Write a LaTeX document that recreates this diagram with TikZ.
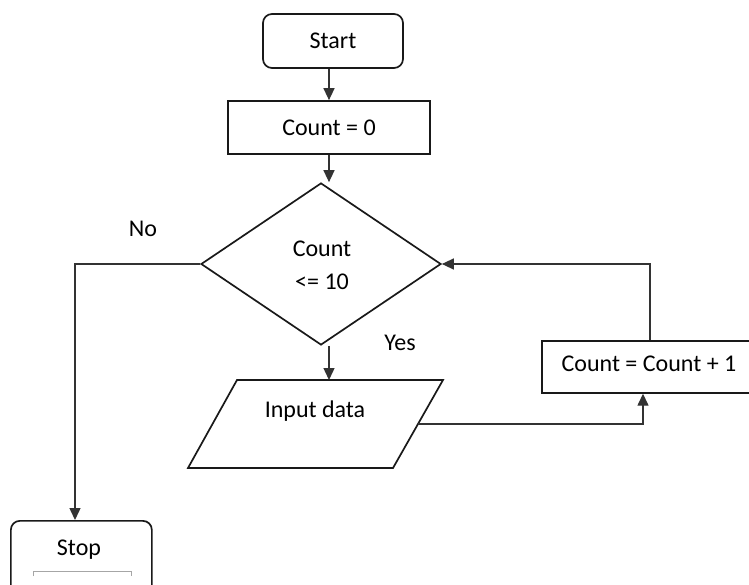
\documentclass[tikz,border=0pt]{standalone}
\usepackage{fontspec}
\setmainfont{Carlito}
\usetikzlibrary{arrows.meta,shapes.geometric}
\begin{document}
\begin{tikzpicture}[x=1pt,y=-1pt,
  every node/.style={font=\fontsize{24}{28}\selectfont},
  shapeline/.style={draw=black!90,line width=1.7pt,fill=white},
  term/.style={shapeline,rounded corners=9pt,minimum width=140pt,minimum height=54pt,inner sep=0pt},
  proc/.style={shapeline,rectangle,minimum width=202pt,minimum height=53pt,inner sep=0pt},
  decide/.style={shapeline,diamond,minimum width=240pt,minimum height=162pt,inner sep=0pt,align=center},
  flow/.style={draw=black!80,line width=1.4pt,-{Triangle[length=12pt,width=11pt]}},
  lbl/.style={inner sep=0pt}]
\useasboundingbox (0,0) rectangle (749,585);
\clip (0,0) rectangle (749,585);

% shapes
\node[term] (start) at (333,41) {Start};
\node[proc] (init) at (329,127.5) {Count = 0};
\node[decide] (test) at (321,264) {};
\node[lbl] at (322,249) {Count};
\node[lbl] at (322,282) {<= 10};

% input parallelogram
\coordinate (in-tl) at (237,380);
\coordinate (in-tr) at (443,380);
\coordinate (in-br) at (393,468);
\coordinate (in-bl) at (188,468);
\draw[shapeline,line join=miter] (in-tl) -- (in-tr) -- (in-br) -- (in-bl) -- cycle;
\coordinate (in-top) at (329,380);
\coordinate (in-east) at (418,424);
\node[lbl] (input) at (315,411) {Input data};

\node[proc,minimum width=212pt,minimum height=52pt,anchor=north west] (inc) at (541,340) {};
\node[lbl] at (649,364) {Count = Count + 1};
\node[term,minimum width=141pt,minimum height=80pt,anchor=north west] (stop) at (10,520) {};
\node[lbl] at (79,550) {Stop};
\draw[draw=black!35,line width=0.8pt] (33,576) -- (33,571) -- (131,571) -- (131,576);

% labels
\node[lbl] at (143,229) {No};
\node[lbl] at (400,343) {Yes};

% connectors
\draw[flow] (start.south -| init.north) -- (init.north);
\draw[flow] (init.south) -- (init.south |- test.north);
\draw[flow] (test.south -| in-top) -- (in-top);
\draw[flow] (test.west) -| (stop.north -| 75,0);
\draw[flow] (in-east) -| (inc.south -| 643,0);
\draw[flow] (inc.north -| 650,0) |- (test.east);
\end{tikzpicture}
\end{document}
